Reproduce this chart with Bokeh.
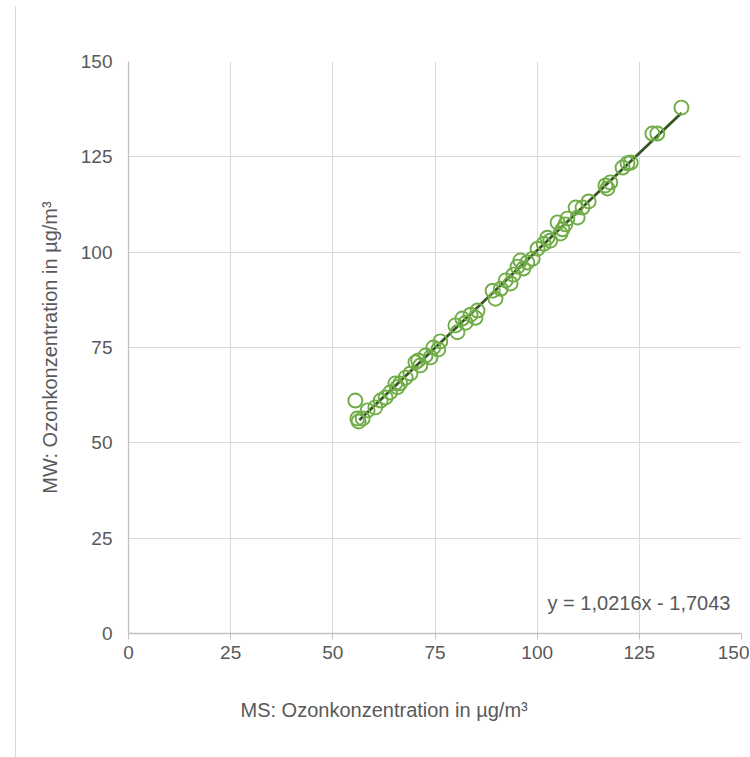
from bokeh.plotting import figure
from bokeh.models import Label, FixedTicker, Range1d, Title
from bokeh.embed import file_html
from bokeh.resources import INLINE

# MS vs MW ozone concentrations (µg/m³)
ms = [55.5, 56.0, 56.3, 57.3, 58.5, 60.4, 61.7, 62.9, 64.0, 65.3, 65.8, 66.5, 67.8,
      69.0, 70.2, 70.9, 71.4, 72.7, 73.9, 74.6, 75.8, 76.3, 80.0, 80.5, 81.7, 82.5,
      83.7, 84.9, 85.4, 89.1, 89.8, 91.1, 92.3, 93.5, 94.2, 95.2, 95.9, 96.6, 97.6,
      98.9, 100.1, 101.6, 102.5, 103.2, 105.0, 105.7, 106.2, 106.9, 107.4, 109.4,
      109.9, 111.1, 112.6, 116.7, 117.2, 117.9, 120.9, 122.1, 122.9, 128.2, 129.4, 135.3]
mw = [61.1, 56.4, 55.6, 56.4, 58.5, 59.3, 61.1, 61.9, 63.2, 65.6, 64.6, 65.6, 67.1,
      68.2, 71.1, 71.6, 70.3, 72.9, 72.4, 75.0, 74.5, 76.6, 80.8, 79.0, 82.6, 81.5,
      83.6, 82.8, 84.7, 89.9, 87.8, 90.4, 92.6, 91.8, 94.1, 96.2, 97.8, 95.7, 97.3,
      98.3, 100.9, 102.2, 103.8, 103.0, 107.8, 104.9, 106.0, 107.3, 108.8, 111.7,
      109.1, 111.7, 113.3, 117.5, 116.7, 118.3, 122.2, 123.3, 123.5, 131.1, 131.1, 137.9]
slope = 1.0216
intercept = -1.7043
ticks = [0, 25, 50, 75, 100, 125, 150]
x_title = "MS: Ozonkonzentration in µg/m³"
y_title = "MW: Ozonkonzentration in µg/m³"
equation = "y = 1,0216x - 1,7043"

FONT = "Liberation Sans"
TXT = "#595959"
FS = "19px"
FS_T = "20px"

p = figure(width=734, height=751, output_backend="svg", toolbar_location=None,
           x_range=Range1d(0, 150), y_range=Range1d(0, 150),
           min_border_left=112, min_border_right=9, min_border_top=55, min_border_bottom=124,
           margin=(6, 0, 0, 15), styles={"border-left": "1px solid #d9d9d9"})
p.background_fill_color = "white"
p.border_fill_color = "white"
p.outline_line_color = None

for ax in (p.xaxis[0], p.yaxis[0]):
    ax.ticker = FixedTicker(ticks=ticks)
    ax.major_label_text_font = FONT
    ax.major_label_text_font_size = FS
    ax.major_label_text_color = TXT
    ax.axis_line_color = "#bfbfbf"
    ax.axis_line_width = 1.3
    ax.minor_tick_line_color = None
    ax.major_tick_in = 0

p.xaxis.major_tick_out = 6
p.xaxis.major_tick_line_color = "#bfbfbf"
p.xaxis.major_label_standoff = 6
p.yaxis.major_tick_out = 0
p.yaxis.major_tick_line_color = None
p.yaxis.major_label_standoff = 16

p.xgrid.ticker = FixedTicker(ticks=ticks)
p.ygrid.ticker = FixedTicker(ticks=ticks)
p.grid.grid_line_color = "#d9d9d9"
p.grid.grid_line_width = 1

# trendline from fitted equation
x0, x1 = min(ms), max(ms)
p.line([x0 + 1.0, x1], [slope * (x0 + 1.0) + intercept, slope * x1 + intercept],
       line_color="#375623", line_width=2.8)

p.scatter(ms, mw, marker="circle", size=14, fill_color=None,
          line_color="#70ad47", line_width=1.9)

p.add_layout(Label(x=147.3, y=8.1, text=equation, text_align="right",
                   text_baseline="middle", text_font=FONT, text_font_size=FS_T,
                   text_color=TXT))

p.add_layout(Title(text=x_title, align="left", offset=112, standoff=71,
                   text_font=FONT, text_font_size=FS_T, text_color=TXT,
                   text_font_style="normal"), "below")
p.add_layout(Title(text=y_title, align="center", standoff=33,
                   text_font=FONT, text_font_size=FS_T, text_color=TXT,
                   text_font_style="normal"), "left")

open("out.html", "w").write(file_html(p, INLINE))
